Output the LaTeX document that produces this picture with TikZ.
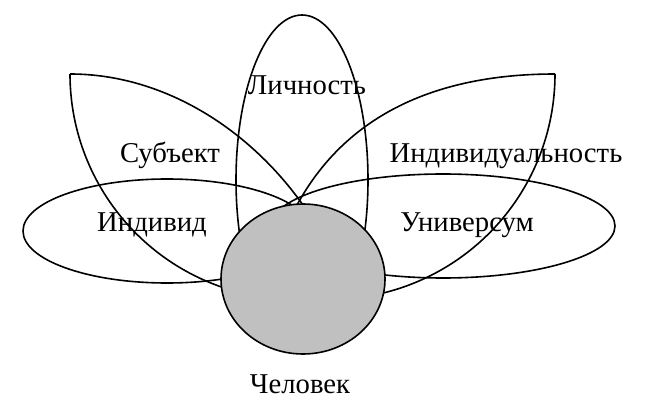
\documentclass[tikz,border=0pt]{standalone}
\usepackage{fontspec}
\setmainfont{Liberation Serif}
\begin{document}
\begin{tikzpicture}[x=1pt,y=1pt,line width=1.6pt,
  lbl/.style={font=\fontsize{28.7}{32}\selectfont,anchor=base,inner sep=0pt},
  shapeline/.style={draw=black,line width=1.6pt}]
\useasboundingbox (0,0) rectangle (651,-417);
% petal tips
\coordinate (lt) at (70,-74);
\coordinate (rt) at (555,-74);
% ellipses
\draw[shapeline] (302,-180) ellipse [x radius=66, y radius=165];
\draw[shapeline] (167,-231) ellipse [x radius=144, y radius=52];
\draw[shapeline] (443,-226) ellipse [x radius=172, y radius=52];
% left petal
\draw[shapeline] (lt) .. controls (180,-74) and (280,-150) .. (330,-250);
\draw[shapeline] (lt) arc[start angle=180, end angle=275, radius=225.5];
% right petal
\draw[shapeline] (rt) .. controls (460,-74) and (340,-100) .. (285,-230);
\draw[shapeline] (rt) arc[start angle=0, end angle=-95, radius=225.5];
% centre
\draw[shapeline,fill={rgb,255:red,192;green,192;blue,192}] (303,-279) ellipse [x radius=82, y radius=75];
% labels
\node[lbl] (lich) at (307,-95) {Личность};
\node[lbl] (subj) at (170,-163) {Субъект};
\node[lbl] (indd) at (152,-232) {Индивид};
\node[lbl] (indl) at (506,-163) {Индивидуальность};
\node[lbl] (univ) at (467,-232) {Универсум};
\node[lbl] (chel) at (300,-393) {Человек};
\end{tikzpicture}
\end{document}
